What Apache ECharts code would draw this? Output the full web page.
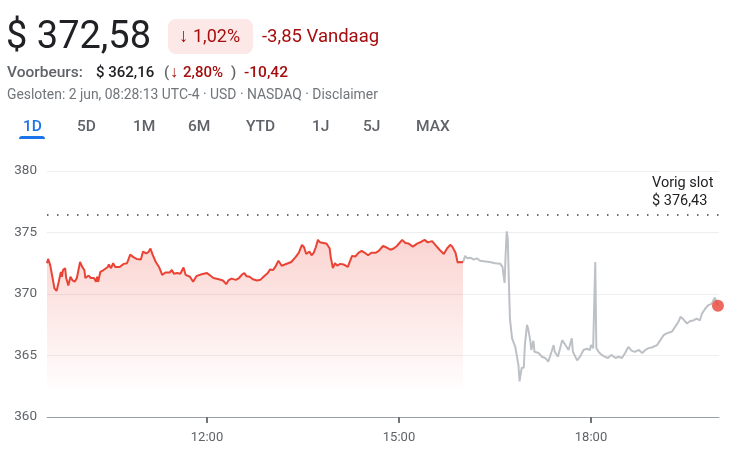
<!DOCTYPE html>
<html>
<head>
<meta charset="utf-8">
<script src="https://cdn.jsdelivr.net/npm/echarts@6/dist/echarts.min.js"></script>
<style>
html,body{margin:0;padding:0;background:#fff;}
#c{width:740px;height:463px;}
</style>
</head>
<body>
<div id="c"></div>
<script>
// ---- data ----
const regTimes = ["09:30","09:31","09:33","09:34","09:35","09:37","09:39","09:41","09:43","09:44","09:45","09:47","09:48","09:50","09:52","09:54","09:56","09:58","10:01","10:03","10:05","10:06","10:09","10:11","10:14","10:16","10:17","10:18","10:20","10:23","10:27","10:28","10:30","10:32","10:34","10:38","10:42","10:45","10:48","10:51","10:54","10:58","11:00","11:03","11:05","11:07","11:09","11:12","11:15","11:18","11:21","11:25","11:27","11:29","11:32","11:35","11:38","11:40","11:44","11:47","11:50","11:55","12:00","12:03","12:06","12:11","12:15","12:18","12:20","12:23","12:27","12:30","12:33","12:35","12:37","12:40","12:43","12:47","12:50","12:53","12:57","12:59","13:02","13:04","13:07","13:10","13:13","13:16","13:19","13:23","13:26","13:29","13:31","13:33","13:36","13:38","13:40","13:42","13:44","13:46","13:49","13:52","13:55","13:56","13:58","14:00","14:02","14:05","14:08","14:12","14:16","14:19","14:22","14:25","14:28","14:31","14:34","14:38","14:41","14:45","14:48","14:52","14:55","14:58","15:03","15:06","15:09","15:13","15:17","15:21","15:24","15:27","15:31","15:34","15:38","15:42","15:45","15:48","15:50","15:53","15:55","15:57","16:00"];
const regPrices = [372.5,372.85,372.35,372.2,371.4,370.45,370.25,371.0,371.8,371.4,371.95,372.1,371.3,370.7,371.4,371.1,371.0,371.3,372.6,372.2,371.95,371.3,371.5,371.3,371.3,371.0,371.4,371.0,371.8,371.95,372.2,372.4,372.1,372.5,372.2,372.2,372.45,372.5,373.2,373.0,372.85,372.8,373.45,373.3,373.4,373.7,373.2,372.6,372.2,371.55,371.75,371.75,371.95,371.65,371.7,371.65,372.15,371.55,371.4,371.0,371.45,371.6,371.7,371.5,371.3,371.2,371.1,370.8,371.1,371.25,371.15,371.3,371.6,371.7,371.45,371.4,371.2,371.1,371.15,371.4,371.7,372.0,371.95,372.2,372.7,372.3,372.4,372.5,372.6,373.0,373.35,374.0,373.8,373.25,373.45,373.15,373.35,373.8,374.4,374.2,374.15,374.1,373.7,373.0,372.1,372.5,372.3,372.45,372.4,372.2,373.1,373.05,373.35,373.5,373.35,373.15,373.35,373.35,373.5,373.9,373.8,373.6,373.7,373.9,374.4,374.15,374.1,373.85,374.1,374.25,374.4,374.2,374.3,374.0,373.6,373.25,373.7,374.0,373.85,373.35,372.55,372.6,372.58];

const ahTimes = ["16:00","16:02","16:04","16:07","16:10","16:13","16:16","16:21","16:25","16:30","16:35","16:37","16:39","16:40","16:41","16:42","16:43","16:44","16:46","16:47","16:49","16:50","16:52","16:53","16:55","16:57","16:58","17:00","17:01","17:03","17:04","17:06","17:07","17:11","17:14","17:17","17:20","17:23","17:25","17:26","17:29","17:33","17:36","17:39","17:42","17:43","17:47","17:50","17:53","17:56","17:59","18:00","18:02","18:03","18:04","18:05","18:07","18:10","18:13","18:16","18:19","18:23","18:26","18:29","18:32","18:35","18:38","18:41","18:45","18:48","18:51","18:54","18:57","19:02","19:05","19:08","19:11","19:16","19:19","19:22","19:24","19:27","19:30","19:33","19:36","19:39","19:42","19:44","19:47","19:50","19:53","19:56","19:59"];
const ahPrices = [372.58,373.1,372.9,372.95,372.8,372.9,372.7,372.65,372.6,372.5,372.45,372.2,370.9,373.3,375.1,374.5,371.0,368.0,366.4,366.5,365.7,365.8,364.2,362.9,364.0,364.0,365.85,367.5,367.2,366.25,365.45,366.2,365.3,365.2,364.9,364.8,364.5,365.3,365.85,365.3,364.9,366.25,365.85,365.45,366.4,365.3,364.6,364.95,365.45,365.55,365.45,365.85,365.6,365.7,372.6,365.6,365.3,365.05,364.9,364.8,365.05,364.8,364.9,364.8,365.2,365.7,365.4,365.3,365.45,365.2,365.45,365.6,365.65,365.85,366.25,366.65,366.8,366.95,367.35,367.75,368.15,367.9,367.6,367.8,367.85,368.0,367.85,368.4,368.8,369.1,369.2,369.7,369.05];

const previousClose = 376.43;
const yTicks = [360, 365, 370, 375, 380];
const xTickLabels = ["12:00", "15:00", "18:00"];
const sessionStart = "09:30";
const sessionEnd = "20:00";

// ---- helpers ----
function toMin(s){ const p = s.split(":"); return (+p[0])*60 + (+p[1]); }
function toHM(m){ const h = Math.floor(m/60), mm = m%60; return String(h).padStart(2,"0")+":"+String(mm).padStart(2,"0"); }
const regData = regTimes.map((t,i)=>[toMin(t), regPrices[i]]);
const ahData = ahTimes.map((t,i)=>[toMin(t), ahPrices[i]]);
const lastPoint = ahData[ahData.length-1];

const FONT = "Roboto, 'Noto Sans', Arial, sans-serif";
const RED = "#ea4335";
const DARKRED = "#a50e0e";
const GREY = "#5f6368";

const chart = echarts.init(document.getElementById("c"));

function txt(x, y, s, size, color, weight, extra){
  return Object.assign({
    type: "text", x: x, y: y, silent: true,
    style: { text: s, fontSize: size, fontFamily: FONT, fill: color, fontWeight: weight || "normal", verticalAlign: "middle", align: "left" }
  }, extra || {});
}

const tabs = [["1D",23],["5D",77],["1M",133],["6M",188],["YTD",246],["1J",312],["5J",363],["MAX",416]];

const graphics = [
  txt(6, 38, "$ 372,58", 38, "#202124", "normal"),
  { type: "rect", shape: { x: 168, y: 19, width: 85, height: 35, r: 8 }, style: { fill: "#fce8e6" }, silent: true },
  txt(179, 37, "↓", 19, DARKRED, "normal"),
  txt(193, 37, "1,02%", 18, DARKRED, "normal"),
  txt(262, 37, "-3,85 Vandaag", 18.5, DARKRED, "normal"),
  txt(7, 73, "Voorbeurs:", 15.5, GREY, "500"),
  txt(96, 73, "$ 362,16", 15, "#202124", "500"),
  txt(164, 73, "(", 15, GREY, "500"),
  txt(170, 73, "↓", 16, DARKRED, "500"),
  txt(183, 73, "2,80%", 15, DARKRED, "500"),
  txt(231, 73, ")", 15, GREY, "500"),
  txt(244, 73, "-10,42", 15.5, DARKRED, "500"),
  txt(7, 96, "Gesloten: 2 jun, 08:28:13 UTC-4 · USD · NASDAQ · Disclaimer", 13.9, "#70757a", "normal"),
  { type: "rect", shape: { x: 19, y: 136, width: 26, height: 3, r: [3,3,0,0] }, style: { fill: "#1a73e8" }, silent: true },
  txt(652, 183, "Vorig slot", 14.5, "#202124", "normal"),
  txt(652, 201, "$ 376,43", 14.5, "#202124", "normal")
];
tabs.forEach((t,i)=>{
  graphics.push(txt(t[1], 127, t[0], 15.5, i===0 ? "#1a73e8" : GREY, "500"));
});

const option = {
  animation: false,
  backgroundColor: "#fff",
  textStyle: { fontFamily: FONT },
  grid: { left: 47, right: 21, top: 171, bottom: 46 },
  xAxis: {
    type: "value",
    min: toMin(sessionStart),
    max: toMin(sessionEnd),
    axisLine: { show: true, lineStyle: { color: "#9aa0a6", width: 1 } },
    axisTick: { show: true, customValues: xTickLabels.map(toMin), length: 6, lineStyle: { color: "#70757a", width: 2 } },
    axisLabel: { show: true, customValues: xTickLabels.map(toMin), formatter: v => toHM(v), color: "#5f6368", fontSize: 13, margin: 14, fontFamily: FONT },
    splitLine: { show: false }
  },
  yAxis: {
    type: "value",
    min: yTicks[0],
    max: yTicks[yTicks.length-1],
    interval: 5,
    axisLine: { show: false },
    axisTick: { show: false },
    axisLabel: { color: "#5f6368", fontSize: 13.5, margin: 10, fontFamily: FONT },
    splitLine: { show: true, lineStyle: { color: "#eeeeee", width: 1 } }
  },
  graphic: graphics,
  series: [
    {
      type: "line",
      data: regData,
      showSymbol: false,
      symbol: "none",
      z: 3,
      lineStyle: { color: RED, width: 2 },
      areaStyle: {
        origin: "start",
        color: new echarts.graphic.LinearGradient(0, 0, 0, 1, [
          { offset: 0, color: "rgba(234,67,53,0.32)" },
          { offset: 0.5, color: "rgba(234,67,53,0.14)" },
          { offset: 0.83, color: "rgba(234,67,53,0.02)" },
          { offset: 0.84, color: "rgba(234,67,53,0)" },
          { offset: 1, color: "rgba(234,67,53,0)" }
        ])
      },
      markLine: {
        silent: true,
        symbol: ["none", "none"],
        label: { show: false },
        lineStyle: { color: "#3c4043", type: [1.5, 8.5], width: 1.5 },
        data: [{ yAxis: previousClose }]
      }
    },
    {
      type: "line",
      data: ahData,
      showSymbol: false,
      symbol: "none",
      z: 2,
      lineStyle: { color: "#bdc1c6", width: 2 }
    },
    {
      type: "scatter",
      data: [lastPoint],
      symbolSize: 12,
      z: 5,
      itemStyle: { color: RED }
    }
  ]
};
chart.setOption(option);
</script>
</body>
</html>
